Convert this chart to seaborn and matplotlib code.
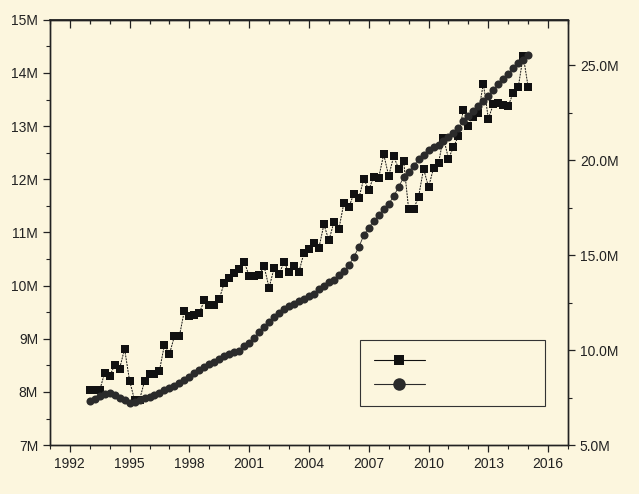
import numpy as np
import pandas as pd
import seaborn as sns
import matplotlib.pyplot as plt
from matplotlib.ticker import MultipleLocator, FuncFormatter
from matplotlib.lines import Line2D

# quarterly observations, 1993 Q1 .. 2015 Q1
quarters = np.arange(1993, 2015.01, 0.25)

# square series, left axis (millions)
squares = [
    8.03, 8.03, 8.03, 8.36,
    8.30, 8.50, 8.44, 8.81,
    8.21, 7.85, 7.85, 8.20,
    8.34, 8.34, 8.40, 8.89,
    8.71, 9.05, 9.05, 9.53,
    9.42, 9.44, 9.49, 9.72,
    9.63, 9.63, 9.75, 10.05,
    10.15, 10.23, 10.31, 10.45,
    10.18, 10.18, 10.20, 10.36,
    9.96, 10.33, 10.22, 10.44,
    10.25, 10.37, 10.26, 10.62,
    10.68, 10.80, 10.71, 11.15,
    10.85, 11.19, 11.06, 11.55,
    11.47, 11.73, 11.64, 12.01,
    11.80, 12.05, 12.03, 12.47,
    12.06, 12.43, 12.20, 12.34,
    11.44, 11.44, 11.67, 12.20,
    11.85, 12.21, 12.31, 12.78,
    12.39, 12.60, 12.82, 13.31,
    13.00, 13.17, 13.25, 13.80,
    13.14, 13.41, 13.43, 13.40,
    13.38, 13.63, 13.73, 14.32,
    13.73,
]

# circle series, right axis (millions)
circles = [
    7.34, 7.45, 7.60, 7.70,
    7.75, 7.65, 7.50, 7.35,
    7.22, 7.25, 7.38, 7.48,
    7.55, 7.65, 7.75, 7.88,
    8.00, 8.12, 8.26, 8.42,
    8.60, 8.78, 8.95, 9.10,
    9.25, 9.40, 9.55, 9.68,
    9.80, 9.90, 9.98, 10.20,
    10.40, 10.65, 10.95, 11.20,
    11.50, 11.75, 11.98, 12.15,
    12.30, 12.45, 12.57, 12.70,
    12.83, 12.98, 13.20, 13.40,
    13.57, 13.72, 13.95, 14.15,
    14.48, 14.90, 15.42, 16.05,
    16.45, 16.80, 17.10, 17.45,
    17.70, 18.10, 18.60, 19.10,
    19.40, 19.70, 20.05, 20.30,
    20.55, 20.70, 20.83, 21.00,
    21.22, 21.45, 21.70, 22.05,
    22.35, 22.60, 22.85, 23.10,
    23.38, 23.72, 24.00, 24.30,
    24.55, 24.88, 25.10, 25.28,
    25.56,
]

df = pd.DataFrame({"quarter": quarters, "squares": squares, "circles": circles})

sns.set_theme(style="ticks")
plt.rcParams['font.family'] = ['Liberation Sans', 'DejaVu Sans']
bg = "#fcf6de"
ink = "#222222"

fig = plt.figure(figsize=(6.39, 4.94), dpi=100, facecolor=bg)
ax = fig.add_axes([0.078, 0.099, 0.811, 0.861], facecolor=bg)

sns.lineplot(data=df, x="quarter", y="squares", ax=ax, estimator=None,
             color="#111111", linewidth=0.7, linestyle=(0, (2, 1)),
             marker="s", markersize=6, markeredgewidth=0)

ax2 = ax.twinx()
sns.lineplot(data=df, x="quarter", y="circles", ax=ax2, estimator=None,
             color="#2b2b2b", linewidth=0.6,
             marker="o", markersize=5.8, markeredgewidth=0)

# axes limits and ticks
ax.set_xlim(1991, 2017)
ax.set_ylim(7, 15)
ax2.set_ylim(5, 27.4)

ax.xaxis.set_major_locator(MultipleLocator(3))
ax.xaxis.set_minor_locator(MultipleLocator(1))
ax.yaxis.set_major_locator(MultipleLocator(1))
ax.yaxis.set_minor_locator(MultipleLocator(0.5))
ax.yaxis.set_major_formatter(FuncFormatter(lambda v, p: f"{v:.0f}M"))
ax2.yaxis.set_major_locator(MultipleLocator(5))
ax2.yaxis.set_minor_locator(MultipleLocator(2.5))
ax2.yaxis.set_major_formatter(FuncFormatter(lambda v, p: f"{v:.1f}M"))

for a in (ax, ax2):
    a.set_xlabel("")
    a.set_ylabel("")
    a.tick_params(which="major", length=5, width=0.9, colors=ink, labelsize=10)
    a.tick_params(which="minor", length=3, width=0.8, colors=ink)
    for s in a.spines.values():
        s.set_color(ink)
        s.set_linewidth(1.0)

top = ax.secondary_xaxis("top")
top.xaxis.set_major_locator(MultipleLocator(3))
top.xaxis.set_minor_locator(MultipleLocator(1))
top.tick_params(which="both", direction="in", labeltop=False, colors=ink, width=0.9)
top.tick_params(which="major", length=6)
top.tick_params(which="minor", length=3)
top.spines["top"].set_color(ink)

# legend with empty labels, as in the original
handles = [
    Line2D([], [], color="#111111", lw=0.8, marker="s", markersize=6.5, markeredgewidth=0),
    Line2D([], [], color="#2b2b2b", lw=0.8, marker="o", markersize=9, markeredgewidth=0),
]
leg = ax2.legend(handles, ["", ""], loc="upper left",
                 bbox_to_anchor=(0.598, 0.094, 0.357, 0.153), mode="expand",
                 frameon=True, fancybox=False, edgecolor="#333333", facecolor=bg,
                 framealpha=1, handlelength=3.7, borderpad=1.0, labelspacing=0.75,
                 handletextpad=0.4, fontsize=10, borderaxespad=0)
leg.get_frame().set_linewidth(0.8)
leg._legend_box.sep = 0
for h in leg.legend_handles:
    pass

fig.savefig("out.png", dpi=100, facecolor=bg)
